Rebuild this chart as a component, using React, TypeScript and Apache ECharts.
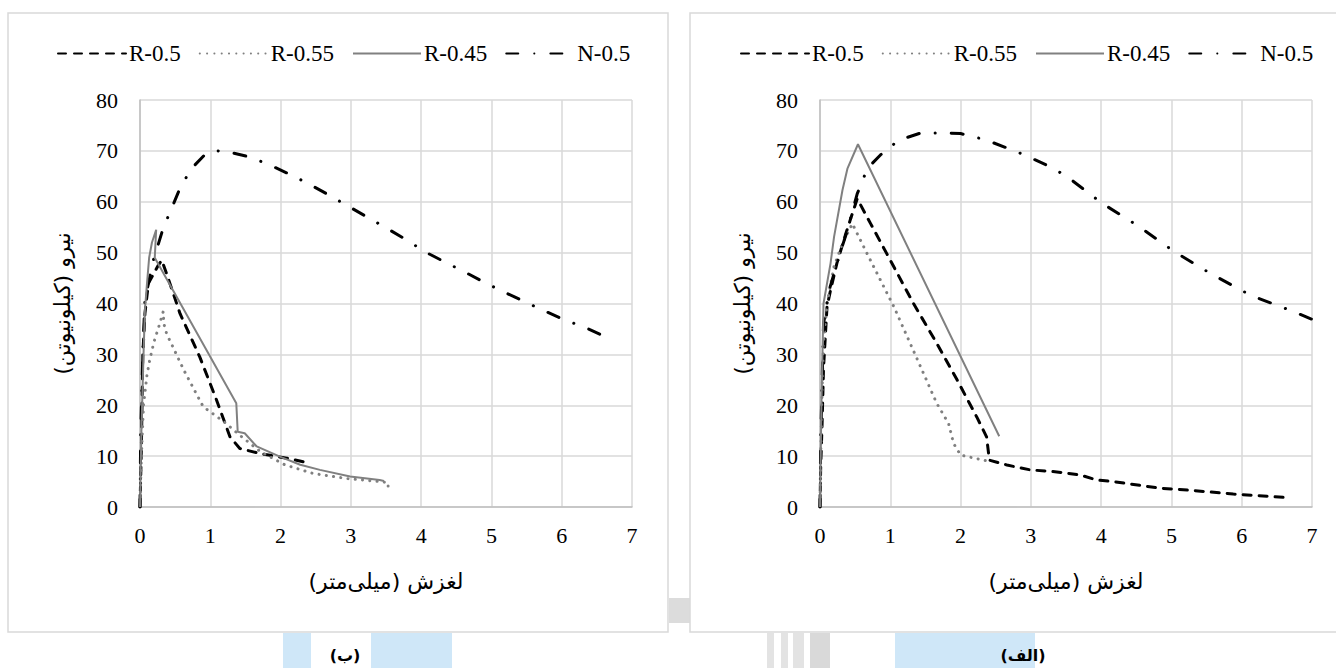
import React, { useEffect, useRef } from "react";
import * as echarts from "echarts";

// ---------- data ----------
const xTickMax = 7;
const yTickMax = 80;
const seriesNames = ["R-0.5", "R-0.55", "R-0.45", "N-0.5"];

// Panel (ب) — left
const leftR05: number[][] = [
  [0, 0], [0.02, 12], [0.04, 30], [0.07, 38], [0.12, 44], [0.2, 46], [0.26, 47.5], [0.31, 48.5],
  [0.4, 45], [0.57, 38], [0.85, 29.5], [1.09, 21], [1.28, 13.8], [1.42, 11.5], [1.71, 10.5],
  [2.09, 9.6], [2.35, 8.8],
];
const leftR055: number[][] = [
  [0, 0], [0.02, 10], [0.05, 20], [0.1, 26], [0.14, 29], [0.2, 32.5], [0.28, 36], [0.33, 38.4],
  [0.34, 36], [0.38, 34], [0.45, 32], [0.62, 27], [0.9, 19.7], [1.19, 16.8], [1.42, 14.1],
  [1.71, 10.9], [2.06, 8.3], [2.46, 6.6], [2.94, 5.6], [3.41, 5.0], [3.53, 4.8], [3.53, 3.1],
];
const leftR045: number[][] = [
  [0, 0], [0.02, 15], [0.05, 30], [0.07, 38.7], [0.1, 44], [0.13, 49], [0.17, 52], [0.23, 54.5],
  [0.21, 49], [1.37, 20.4], [1.39, 14.8], [1.49, 14.5], [1.66, 11.9], [1.99, 9.9], [2.28, 8.3],
  [2.56, 7.3], [2.99, 6.0], [3.41, 5.3], [3.47, 5.1],
];
const leftN05: number[][] = [
  [0, 0], [0.01, 14.5], [0.04, 30], [0.07, 40.7], [0.19, 48.5], [0.33, 54.8], [0.45, 58.7],
  [0.57, 62.7], [0.73, 66.5], [0.94, 69.5], [1.1, 70], [1.26, 69.8], [1.56, 68.8], [1.85, 67.2],
  [2.13, 65.4], [2.39, 63.6], [2.69, 61.3], [2.89, 59.7], [3.23, 57.0], [3.51, 54.8], [3.78, 52.6],
  [4.05, 50.2], [4.33, 48.2], [4.62, 46.2], [4.88, 44.3], [5.17, 42.3], [5.45, 40.5], [5.73, 38.7],
  [6.02, 36.9], [6.33, 35.3], [6.6, 33.6],
];

// Panel (الف) — right
const rightR05: number[][] = [
  [0, 0], [0.01, 8], [0.03, 16.4], [0.05, 27.3], [0.1, 39.4], [0.15, 42.6], [0.24, 47.9],
  [0.36, 53.4], [0.43, 56.4], [0.53, 60.6], [0.72, 55.7], [0.95, 49.8], [1.33, 40], [1.66, 32.2],
  [1.95, 25], [2.23, 17.7], [2.37, 13.8], [2.41, 9.2], [2.66, 8.25], [2.99, 7.3], [3.37, 6.9],
  [3.7, 6.3], [3.94, 5.3], [4.17, 5], [4.83, 3.7], [5.26, 3.3], [5.88, 2.55], [6.59, 1.9],
];
const rightR055: number[][] = [
  [0, 0], [0.01, 10], [0.03, 23], [0.05, 32.2], [0.1, 40], [0.2, 47.3], [0.32, 51.8], [0.46, 55.7],
  [0.67, 49.8], [0.86, 44.6], [1.05, 39.4], [1.24, 33.5], [1.43, 27.6], [1.66, 20.4], [1.83, 16.4],
  [1.9, 12.5], [2.0, 10.2], [2.33, 9.2], [2.4, 9.0],
];
const rightR045: number[][] = [
  [0, 0], [0.02, 20], [0.05, 40], [0.15, 47.9], [0.2, 53.1], [0.32, 62.3], [0.39, 66.5],
  [0.54, 71.3], [2.55, 13.9],
];
const rightN05: number[][] = [
  [0, 0], [0.01, 13], [0.05, 36], [0.13, 42.6], [0.27, 49.2], [0.39, 54.4], [0.53, 61.6],
  [0.6, 63.9], [0.67, 66.5], [0.86, 69.2], [1.12, 72.1], [1.43, 73.5], [1.74, 73.5], [2.0, 73.4],
  [2.35, 72.2], [2.75, 70.1], [2.94, 69], [3.27, 66.9], [3.51, 65], [3.89, 61], [3.99, 59.9],
  [4.53, 55.2], [5.04, 50.2], [5.58, 45.7], [6.13, 41.6], [6.72, 38.5], [7.0, 36.9],
];

const xAxisTitle = "\u200Fلغزش (میلی\u200Cمتر)\u200F";
const yAxisTitle = "\u200Fنیرو (کیلونیوتن)\u200F";
const leftCaption = "(ب)";
const rightCaption = "(الف)";

// ---------- styles ----------
const SERIF = "'Liberation Serif', 'Times New Roman', serif";
const ARABIC = "'DejaVu Sans', 'Liberation Serif', sans-serif";
const styles = [
  { color: "#000000", width: 3, type: [8, 8] as any, cap: "round" as const },
  { color: "#808080", width: 3, type: [0.1, 7.2] as any, cap: "round" as const },
  { color: "#808080", width: 2, type: "solid" as any, cap: "butt" as const },
  { color: "#000000", width: 3, type: [12, 16, 0.1, 16] as any, cap: "round" as const },
];

// faint background watermark blocks (decorative, behind the panels)
const watermark = [
  { x: 283, y: 633, w: 28, h: 35, c: "#cfe7f8" },
  { x: 371, y: 633, w: 81, h: 35, c: "#cfe7f8" },
  { x: 895, y: 633, w: 140, h: 35, c: "#cfe7f8" },
  { x: 767, y: 633, w: 7, h: 35, c: "#e3e3e3" },
  { x: 781, y: 633, w: 7, h: 35, c: "#e3e3e3" },
  { x: 793, y: 633, w: 11, h: 35, c: "#e3e3e3" },
  { x: 810, y: 633, w: 20, h: 35, c: "#d9d9d9" },
  { x: 669, y: 598, w: 21, h: 25, c: "#dcdcdc" },
];

export default function App() {
  const ref = useRef<HTMLDivElement>(null);
  useEffect(() => {
    if (!ref.current) return;
    const chart = echarts.init(ref.current, undefined, { renderer: "svg" });
    const grids = [
      { left: 140, top: 100, width: 492, height: 407 },
      { left: 820, top: 100, width: 492, height: 407 },
    ];
    const mkX = (gi: number) => ({
      type: "value",
      gridIndex: gi,
      min: 0,
      max: xTickMax,
      interval: 1,
      axisLine: { show: true, onZero: false, lineStyle: { color: "#bfbfbf", width: 1.5 } },
      axisTick: { show: false },
      splitLine: { show: true, lineStyle: { color: "#d9d9d9", width: 1.5 } },
      axisLabel: { color: "#000", fontFamily: SERIF, fontSize: 22, margin: 17 },
      name: xAxisTitle,
      nameLocation: "middle",
      nameGap: 63,
      nameTextStyle: { color: "#000", fontFamily: ARABIC, fontSize: 22 },
    });
    const mkY = (gi: number) => ({
      type: "value",
      gridIndex: gi,
      min: 0,
      max: yTickMax,
      interval: 10,
      axisLine: { show: true, lineStyle: { color: "#bfbfbf", width: 1.5 } },
      axisTick: { show: false },
      splitLine: { show: true, lineStyle: { color: "#d9d9d9", width: 1.5 } },
      axisLabel: { color: "#000", fontFamily: SERIF, fontSize: 22, margin: 22 },
      name: yAxisTitle,
      nameLocation: "middle",
      nameGap: 67,
      nameTextStyle: { color: "#000", fontFamily: ARABIC, fontSize: 22 },
    });
    const dataSets = [
      [leftR05, leftR055, leftR045, leftN05],
      [rightR05, rightR055, rightR045, rightN05],
    ];
    const series: any[] = [];
    dataSets.forEach((sets, gi) => {
      sets.forEach((d, si) => {
        series.push({
          type: "line",
          name: seriesNames[si],
          xAxisIndex: gi,
          yAxisIndex: gi,
          data: d,
          symbol: "none",
          showSymbol: false,
          smooth: false,
          clip: true,
          itemStyle: { color: styles[si].color },
          lineStyle: styles[si],
          z: si === 2 ? 3 : 2,
        });
      });
    });
    const legendBase = {
      data: seriesNames,
      top: 37,
      itemWidth: 68,
      itemHeight: 14,
      itemGap: 18,
      itemStyle: { opacity: 0 },
      textStyle: { color: "#000", fontFamily: SERIF, fontSize: 23, padding: [0, 0, 0, -2] },
      selectedMode: false,
    };
    const wmGraphics = watermark.map((b) => ({
      type: "rect",
      z: -10,
      silent: true,
      shape: { x: b.x, y: b.y, width: b.w, height: b.h },
      style: { fill: b.c },
    }));
    chart.setOption({
      animation: false,
      backgroundColor: "#ffffff",
      grid: grids,
      xAxis: [mkX(0), mkX(1)],
      yAxis: [mkY(0), mkY(1)],
      legend: [
        { ...legendBase, left: 52 },
        { ...legendBase, left: 735 },
      ],
      series,
      graphic: [
        ...wmGraphics,
        {
          type: "rect",
          shape: { x: 8, y: 13, width: 660, height: 619 },
          style: { fill: "none", stroke: "#d9d9d9", lineWidth: 1.5 },
          silent: true,
        },
        {
          type: "rect",
          shape: { x: 690, y: 13, width: 660, height: 619 },
          style: { fill: "none", stroke: "#d9d9d9", lineWidth: 1.5 },
          silent: true,
        },
        {
          type: "text",
          x: 345,
          y: 655,
          style: {
            text: leftCaption,
            fill: "#000",
            font: `bold 16px ${ARABIC}`,
            textAlign: "center",
            textVerticalAlign: "middle",
          },
        },
        {
          type: "text",
          x: 1023,
          y: 655,
          style: {
            text: rightCaption,
            fill: "#000",
            font: `bold 16px ${ARABIC}`,
            textAlign: "center",
            textVerticalAlign: "middle",
          },
        },
      ],
    });
    return () => chart.dispose();
  }, []);
  return (
    <div
      ref={ref}
      style={{ position: "fixed", left: 0, top: 0, width: 1336, height: 668, background: "#fff" }}
    />
  );
}
